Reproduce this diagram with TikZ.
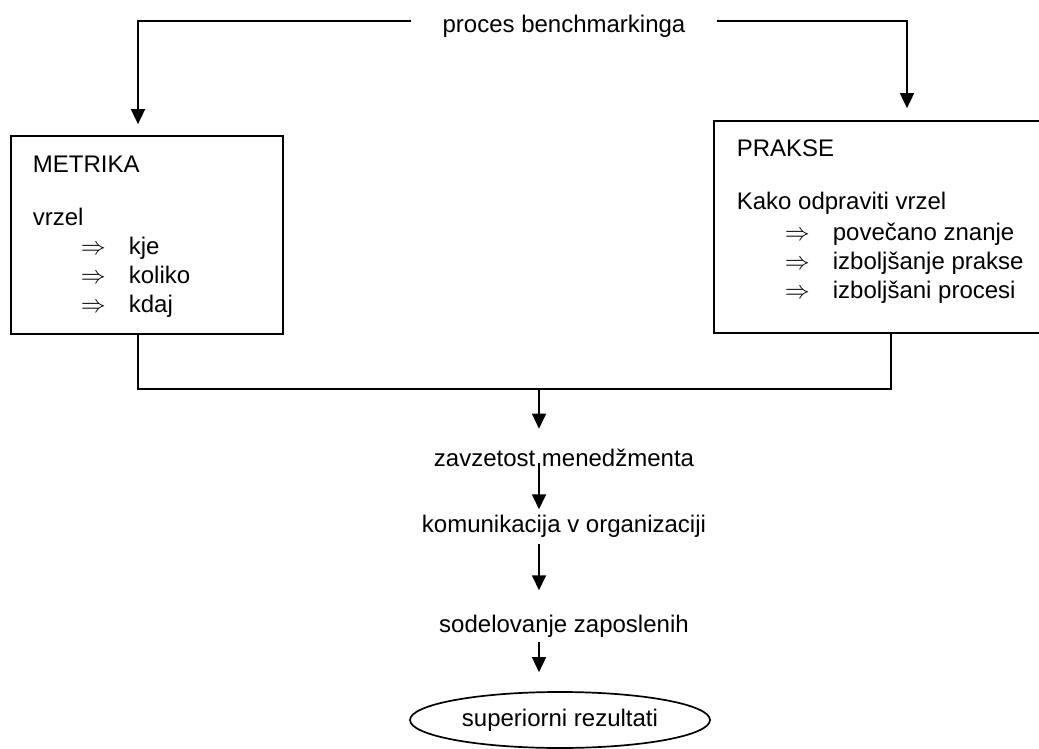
\documentclass[tikz,border=0pt]{standalone}
\usepackage{fontspec}
\setmainfont{Liberation Sans}
\usetikzlibrary{positioning,arrows.meta,calc,shapes.geometric}

\tikzset{
  arr/.style={-{Triangle[width=14pt,length=15pt]}},
  frame/.style={draw,rectangle,inner sep=0pt},
  label/.style={inner sep=0pt,anchor=base},
  boxtext/.style={inner sep=0pt,anchor=north west,align=left}
}
\newcommand{\implrow}{\hspace*{48pt}\makebox[48pt][l]{$\Rightarrow$}}

\begin{document}
\begin{tikzpicture}[x=1pt,y=-1pt,line width=1.7pt,font=\fontsize{24}{29}\selectfont]
\useasboundingbox (0,0) rectangle (1039,749);
\coordinate (lx) at (138,0);
\coordinate (rx) at (907,0);
\coordinate (rb) at (891,0);
\coordinate (join) at (539,389);

\node[label,inner xsep=31pt] (title) at (564,33) {proces benchmarkinga};

\node[frame,minimum width=272pt,minimum height=198pt] (metrika) at (147,235) {};
\node[boxtext] (metrikatext) at (32,155) {METRIKA\\[24pt]
  vrzel\\
  \implrow kje\\
  \implrow koliko\\
  \implrow kdaj};

% right edge of this box falls outside the page
\node[frame,minimum width=334pt,minimum height=212pt] (prakse) at (881,227) {};
\node[boxtext] (praksetext) at (736,139) {PRAKSE\\[24pt]
  Kako odpraviti vrzel\\[2pt]
  \implrow povečano znanje\\
  \implrow izboljšanje prakse\\
  \implrow izboljšani procesi};

\node[label] (zavzetost) at (564,466) {zavzetost menedžmenta};
\node[label] (komunikacija) at (564,532) {komunikacija v organizaciji};
\node[label] (sodelovanje) at (564,632) {sodelovanje zaposlenih};
\node[draw,ellipse,minimum width=300pt,minimum height=56pt,inner sep=0pt] (rezultati) at (560,720) {superiorni rezultati};

% from the process to both boxes
\draw[arr] ([yshift=6pt]title.west) -| ([yshift=11pt]metrika.north -| lx);
\draw[arr] ([yshift=6pt]title.east) -| ([yshift=12pt]prakse.north -| rx);

% joining both boxes
\draw (metrika.south -| lx) -- (join -| lx) -- (join -| rb) -- (prakse.south -| rb);

% the chain down to the results
\draw[arr] (join) -- ([yshift=19pt]zavzetost.north -| join);
\draw[arr] ([yshift=3pt]zavzetost.base -| join) -- ([yshift=4.5pt]komunikacija.north -| join);
\draw[arr] ([yshift=-6pt]komunikacija.south -| join) -- ([yshift=23.5pt]sodelovanje.north -| join);
\draw[arr] ([yshift=-4pt]sodelovanje.south -| join) -- ([yshift=19pt]rezultati.north -| join);
\end{tikzpicture}
\end{document}
